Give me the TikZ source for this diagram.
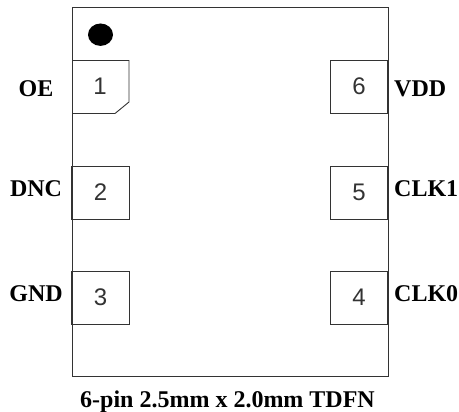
\documentclass[tikz,border=0pt]{standalone}
\usepackage{fontspec}
\setmainfont{Liberation Serif}
\newfontfamily\pinfont{Liberation Sans}
\definecolor{edge}{gray}{0.2}
\tikzset{
 x=1pt,y=-1pt,
 pinbox/.style={draw=edge,line width=0.9pt,minimum width=57.5pt,minimum height=53pt,inner sep=0pt,font=\pinfont\fontsize{24}{26}\selectfont,text=black!80},
 lab/.style={font=\bfseries\fontsize{24}{26}\selectfont,inner sep=0pt}
}
\begin{document}
\begin{tikzpicture}
\useasboundingbox (0,0) rectangle (459,412);
\node[draw=edge,line width=1pt,minimum width=316pt,minimum height=369pt,inner sep=0pt] (body) at (230,192.5) {};
\fill (100.5,34.7) ellipse (12.5 and 11.2);
\draw[draw=edge,line width=0.9pt] (72,60.5) -- (129,60.5) -- (129,102) -- (115,113.5) -- (72,113.5);
\node[font=\pinfont\fontsize{24}{26}\selectfont,text=black!80] (p1) at (100,86.5) {1};
\node[lab] (oe) at (36,89) {OE};
\node[pinbox] (p2) at (100.5,192.5) {2};
\node[pinbox] (p3) at (100.5,297.5) {3};
\node[pinbox] (p6) at (359,86.5) {6};
\node[pinbox] (p5) at (359,192.5) {5};
\node[pinbox] (p4) at (359,297.5) {4};
\node[lab] (dnc) at (36,189) {DNC};
\node[lab] (gnd) at (36,294) {GND};
\node[lab,anchor=west] (vdd) at (394,89) {VDD};
\node[lab,anchor=west] (clk1) at (394,189) {CLK1};
\node[lab,anchor=west] (clk0) at (394,294) {CLK0};
\node[lab] (cap) at (227.5,402) {6-pin 2.5mm x 2.0mm TDFN};
\end{tikzpicture}
\end{document}
